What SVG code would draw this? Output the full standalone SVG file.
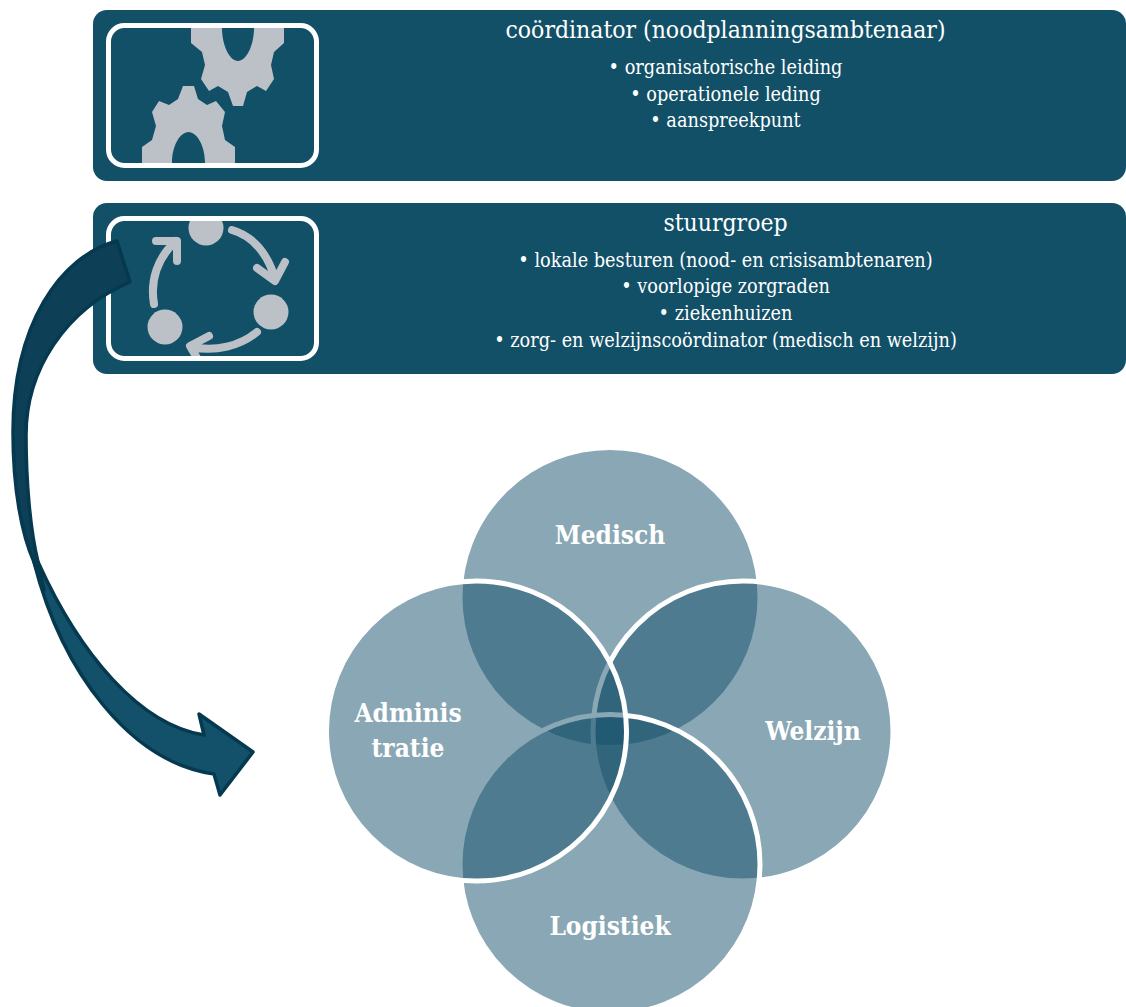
<svg xmlns="http://www.w3.org/2000/svg" width="1126" height="1007" viewBox="0 0 1126 1007">
<style>
text{font-family:"DejaVu Serif Condensed","DejaVu Serif","Liberation Serif",serif;fill:#fff;text-anchor:middle}
.t{font-size:24.500px}
.b{font-size:19.700px}
.c{font-size:26px;font-weight:bold}
.bar{fill:#125068}
.frame{fill:#125068;stroke:#fff;stroke-width:5}
.ic{fill:#bcc1c8}
.ln{fill:none;stroke:#bcc1c8;stroke-width:8;stroke-linecap:round;stroke-linejoin:round}
.v{fill:#13506a;fill-opacity:.5;stroke:none}
.vs{fill:none;stroke:#fff;stroke-width:5}
.arrow{stroke:#05394f;stroke-width:3.500;stroke-linejoin:round}
</style>
<defs>
<clipPath id="f1"><rect x="111" y="28" width="204" height="135" rx="14"/></clipPath>
<clipPath id="f2"><rect x="111" y="221" width="204" height="135" rx="14"/></clipPath>
<clipPath id="page"><rect width="1126" height="1007"/></clipPath>
</defs>
<g id="coordinator">
<rect class="bar" x="93" y="10" width="1033" height="171" rx="14"/>
<rect class="frame" x="108.500" y="25.500" width="208" height="140" rx="16"/>
<g clip-path="url(#f1)">
<path class="ic" fill-rule="evenodd" d="M191 28V43L202 52L205 65L201 79L209 91L218 86L228 92L233 106H243L247 92L257 86L266 91L274 79L271 65L274 52L284 43V28ZM222 28C222 46 230 61 238 61C246 61 254 46 254 28Z"/>
<path class="ic" fill-rule="evenodd" d="M142 163V147L152 140L156 126L152 112L159 101L169 105L178 99L183 86H194L198 99L207 105L216 101L225 112L222 126L225 140L235 147V163ZM172 163C172 146 180 132 188.500 132C197 132 205 146 205 163Z"/>
</g>
</g>
<g id="stuurgroep">
<rect class="bar" x="93" y="203" width="1033" height="171" rx="14"/>
<rect class="frame" x="108.500" y="218.500" width="208" height="140" rx="16"/>
<g clip-path="url(#f2)">
<circle class="ic" cx="206" cy="228" r="17.500"/>
<circle class="ic" cx="271" cy="312" r="17.500"/>
<circle class="ic" cx="165" cy="327" r="17.500"/>
<path class="ln" d="M154 304C150 281 157 258 176 241M156 241H177V261"/>
<path class="ln" d="M232 230C253 236 268 254 275 279M257 268L275 281L285 262"/>
<path class="ln" d="M257 332C240 346 216 352 191 347M209 336L190 346L197 358"/>
</g>
</g>
<g id="connectors">
<path class="arrow" fill="#13506a" d="M34 562C62 672 130 762 214 774L220 795L253 752L199 714L204 735C140 725 80 655 38 562Z"/>
<path class="arrow" fill="#0d3f56" d="M117 241C60 256 13 325 13 432C13 490 22 535 34 562L44 590L38 562C30 530 26 480 26 435C26 370 65 310 130 282Z"/>
</g>
<g id="venn" clip-path="url(#page)">
<g id="medisch"><circle class="v" cx="610" cy="597.500" r="150"/><circle class="vs" cx="610" cy="597.500" r="150"/></g>
<g id="welzijn"><circle class="v" cx="743" cy="731" r="150"/><circle class="vs" cx="743" cy="731" r="150"/></g>
<g id="logistiek"><circle class="v" cx="610" cy="864.500" r="150"/><circle class="vs" cx="610" cy="864.500" r="150"/></g>
<g id="administratie"><circle class="v" cx="476.500" cy="731" r="150"/><circle class="vs" cx="476.500" cy="731" r="150"/></g>
</g>
<text class="t" x="725.500" y="38">coördinator (noodplanningsambtenaar)</text>
<text class="b" x="725.500" y="74">• organisatorische leiding</text>
<text class="b" x="725.500" y="101">• operationele leding</text>
<text class="b" x="725.500" y="127">• aanspreekpunt</text>
<text class="t" x="725.500" y="231">stuurgroep</text>
<text class="b" x="725.500" y="267">• lokale besturen (nood- en crisisambtenaren)</text>
<text class="b" x="725.500" y="293">• voorlopige zorgraden</text>
<text class="b" x="725.500" y="320">• ziekenhuizen</text>
<text class="b" x="725.500" y="347">• zorg- en welzijnscoördinator (medisch en welzijn)</text>
<text class="c" x="610" y="544">Medisch</text>
<text class="c" x="813" y="740">Welzijn</text>
<text class="c" x="610" y="935">Logistiek</text>
<text class="c" x="408" y="722">Adminis</text>
<text class="c" x="408" y="757">tratie</text>
</svg>
